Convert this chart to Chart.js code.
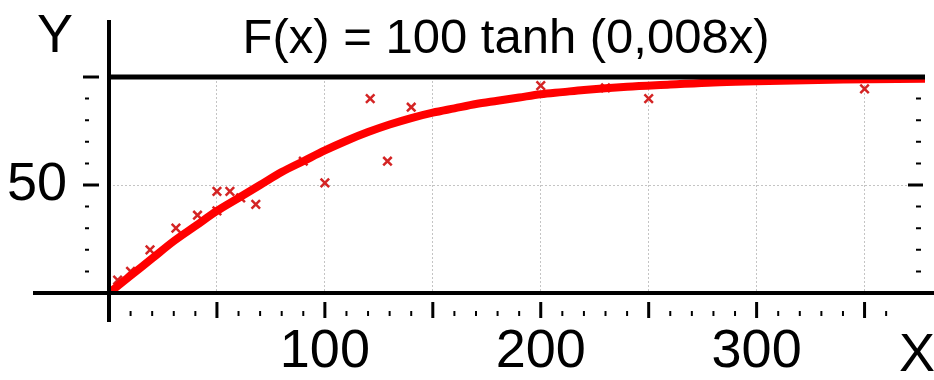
<!DOCTYPE html>
<html lang="en">
<head>
    <meta charset="UTF-8">
    <title>F(x) = 100 tanh (0,008x)</title>
    <script src="https://cdn.jsdelivr.net/npm/chart.js"></script>
    <style>
        body, html {
            margin: 0;
            padding: 0;
            background: #fff;
        }
        #chart {
            display: block;
        }
    </style>
</head>
<body>
    <canvas id="chart" width="934" height="380"></canvas>

    <script>
        // measured points (x marks)
        const obsX = [4, 10, 19, 31, 41, 50, 50, 56, 61, 68, 90, 100, 121, 129, 140, 200, 230, 250, 350];
        const obsY = [6, 10, 20, 30, 36, 47, 38, 47, 44, 41, 61, 51, 90, 61, 86, 96, 95, 90, 94.5];

        // fitted curve
        const curveX = [0, 10, 20, 30, 40, 50, 60, 70, 80, 90, 100, 110, 120, 130, 140, 150, 160, 170, 180, 190, 200, 210, 220, 240, 260, 280, 300, 340, 378];
        const curveY = [0, 8, 16, 24, 31, 38, 44, 50, 56, 61, 66, 70.5, 74.5, 78, 81, 83.5, 85.5, 87.5, 89, 90.5, 92, 93, 94, 95.5, 96.5, 97.5, 98, 98.8, 99.2];

        // tick labels
        const xLabels = [100, 200, 300];
        const yLabels = [50];
        const title = 'F(x) = 100 tanh (0,008x)';

        const FONT = "'Liberation Sans', Arial, sans-serif";

        const axesPlugin = {
            id: 'axes',
            afterDatasetsDraw(chart) {
                const ctx = chart.ctx;
                const xs = chart.scales.x, ys = chart.scales.y;
                const x0 = xs.getPixelForValue(0);
                const y0 = ys.getPixelForValue(0);
                const yTop = ys.getPixelForValue(100);
                ctx.save();
                ctx.strokeStyle = '#000';
                ctx.lineCap = 'butt';

                // axis lines
                ctx.lineWidth = 4;
                ctx.beginPath();
                ctx.moveTo(33, y0); ctx.lineTo(934, y0);
                ctx.moveTo(x0, 20); ctx.lineTo(x0, 322);
                ctx.stroke();
                ctx.lineWidth = 5;
                ctx.beginPath();
                ctx.moveTo(x0, yTop); ctx.lineTo(xs.right, yTop);
                ctx.stroke();

                // bottom ticks
                xs.ticks.forEach(t => {
                    if (t.value <= 0 || t.value % 10 !== 0) return;
                    const px = xs.getPixelForValue(t.value);
                    const major = t.value % 50 === 0;
                    ctx.lineWidth = major ? 3 : 2;
                    ctx.beginPath();
                    ctx.moveTo(px, major ? 302 : 311);
                    ctx.lineTo(px, major ? 318 : 316);
                    ctx.stroke();
                });

                // left and right ticks
                ys.ticks.forEach(t => {
                    if (t.value <= 0 || t.value % 10 !== 0) return;
                    const py = ys.getPixelForValue(t.value);
                    const major = t.value % 50 === 0;
                    ctx.lineWidth = major ? 3 : 2;
                    ctx.beginPath();
                    if (major) {
                        ctx.moveTo(83, py); ctx.lineTo(99, py);
                    } else {
                        ctx.moveTo(85, py); ctx.lineTo(89, py);
                    }
                    if (t.value < 100) {
                        if (major) {
                            ctx.moveTo(908, py); ctx.lineTo(923, py);
                        } else {
                            ctx.moveTo(916, py); ctx.lineTo(921, py);
                        }
                    }
                    ctx.stroke();
                });

                // title and axis names
                ctx.fillStyle = '#000';
                ctx.textAlign = 'center';
                ctx.textBaseline = 'middle';
                ctx.font = '49px ' + FONT;
                ctx.fillText(title, 506, 39);
                ctx.font = '54px ' + FONT;
                ctx.fillText('Y', 55, 37);
                ctx.fillText('X', 917, 356);
                ctx.restore();
            }
        };

        const gridColor = (keep) => (c) =>
            c.tick && keep(c.tick.value) ? '#c4c4c4' : 'rgba(0,0,0,0)';

        new Chart(document.getElementById('chart'), {
            type: 'scatter',
            data: {
                datasets: [
                    {
                        type: 'line',
                        label: 'F(x)',
                        data: curveX.map((x, i) => ({ x: x, y: curveY[i] })),
                        borderColor: '#ff0000',
                        borderWidth: 8,
                        pointRadius: 0,
                        cubicInterpolationMode: 'monotone',
                        fill: false,
                        order: 0
                    },
                    {
                        label: 'data',
                        data: obsX.map((x, i) => ({ x: x, y: obsY[i] })),
                        pointStyle: 'crossRot',
                        pointRadius: 6,
                        borderColor: '#d42424',
                        borderWidth: 2.5,
                        order: 1
                    }
                ]
            },
            options: {
                responsive: false,
                animation: false,
                layout: { padding: { left: 0, right: 9, top: 77, bottom: 0 } },
                plugins: {
                    legend: { display: false },
                    tooltip: { enabled: false },
                    title: { display: false }
                },
                scales: {
                    x: {
                        type: 'linear',
                        min: 0,
                        max: 378,
                        afterFit: s => { s.height = 87; },
                        grid: {
                            color: gridColor(v => v > 0 && v % 50 === 0),
                            lineWidth: 1,
                            drawTicks: true,
                            tickLength: 27,
                            tickColor: 'rgba(0,0,0,0)'
                        },
                        border: { display: false, dash: [2, 2] },
                        ticks: {
                            stepSize: 10,
                            autoSkip: false,
                            maxRotation: 0,
                            padding: 0,
                            color: '#000',
                            font: { size: 54, family: FONT },
                            callback: v => xLabels.includes(v) ? String(v) : ''
                        }
                    },
                    y: {
                        min: 0,
                        max: 100,
                        afterFit: s => { s.width = 109; },
                        grid: {
                            color: gridColor(v => v === 50),
                            lineWidth: 1,
                            drawTicks: false
                        },
                        border: { display: false, dash: [2, 2] },
                        ticks: {
                            stepSize: 10,
                            autoSkip: false,
                            padding: 42,
                            color: '#000',
                            font: { size: 54, family: FONT },
                            callback: v => yLabels.includes(v) ? String(v) : ''
                        }
                    }
                }
            },
            plugins: [axesPlugin]
        });
    </script>
</body>
</html>
